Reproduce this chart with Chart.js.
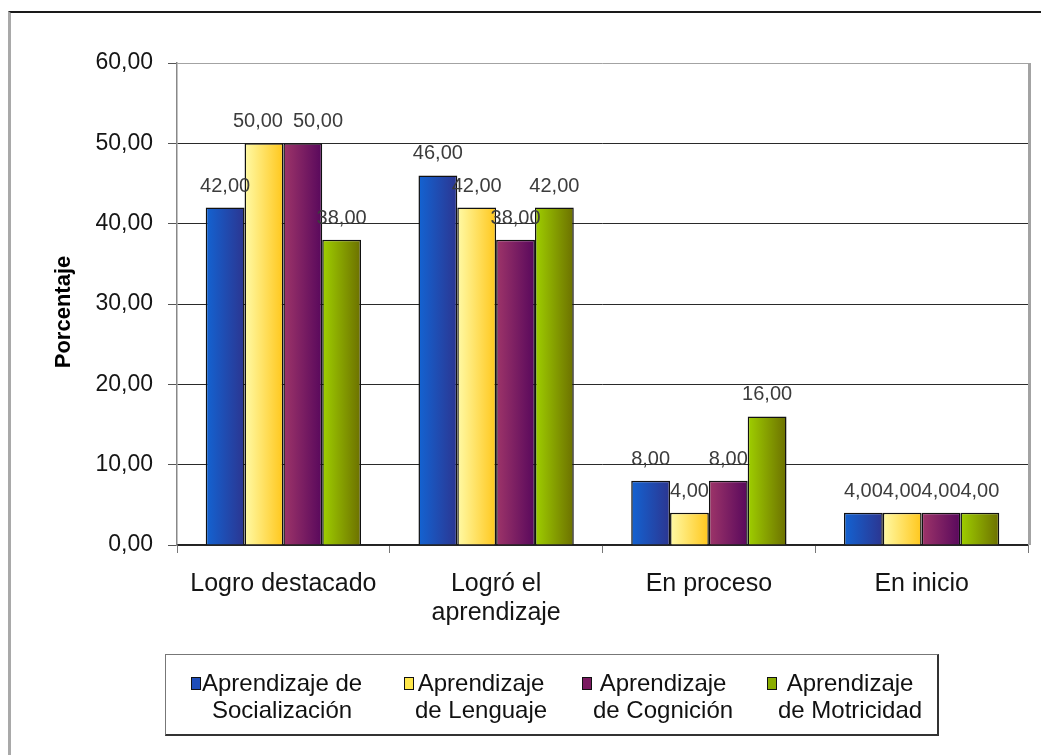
<!DOCTYPE html>
<html>
<head>
<meta charset="utf-8">
<script src="https://cdn.jsdelivr.net/npm/chart.js@4.4.0/dist/chart.umd.min.js"></script>
<style>
  html, body { margin: 0; padding: 0; background: #fff; width: 1041px; height: 755px; overflow: hidden; }
  #frame { position: absolute; left: 8px; top: 11px; width: 1100px; height: 800px;
           border-left: 3px solid #a9a9a9; border-top: 2px solid #1a1a1a; }
  #c { position: absolute; left: 0; top: 0; }
  #legend { position: absolute; left: 165px; top: 654px; width: 771px; height: 79px;
            border: 1px solid #777; border-right: 2px solid #333; border-bottom: 2px solid #333;
            font-family: 'Liberation Sans', Arial, sans-serif; font-size: 24px; color: #111; }
  .item { position: absolute; top: 14px; display: flex; align-items: flex-start; }
  .box { width: 8px; height: 11px; border: 1.5px solid #111; margin-top: 8px; margin-right: 1px; }
  .txt { text-align: center; line-height: 27px; white-space: nowrap; }
</style>
</head>
<body>
<div id="frame"></div>
<canvas id="c" width="1041" height="755"></canvas>
<div id="legend"></div>
<script>
const categories = ['Logro destacado', ['Logró el', 'aprendizaje'], 'En proceso', 'En inicio'];
const seriesNames = [
  ['Aprendizaje de', 'Socialización'],
  ['Aprendizaje', 'de Lenguaje'],
  ['Aprendizaje', 'de Cognición'],
  ['Aprendizaje', 'de Motricidad']
];
const socializacion = [42, 46, 8, 4];
const lenguaje = [50, 42, 4, 4];
const cognicion = [50, 38, 8, 4];
const motricidad = [38, 42, 16, 4];
const yTicks = [0, 10, 20, 30, 40, 50, 60];
const yTitle = 'Porcentaje';

// left / right colour of each bar's gradient, and the legend swatch
const gradColors = [
  ['#1363d2', '#2c3590'],
  ['#fffaa6', '#ffc71c'],
  ['#9e3569', '#58085c'],
  ['#9fcf00', '#6c7000']
];
const swatch = ['#1f4db8', '#ffe74a', '#7a1a60', '#8aad00'];

const fmt = v => v.toFixed(2).replace('.', ',');
const values = [socializacion, lenguaje, cognicion, motricidad];
const FONT = '"Liberation Sans", Arial, sans-serif';

const gradientBars = {
  id: 'gradientBars',
  beforeDatasetsDraw(chart) {
    const ctx = chart.ctx;
    chart.data.datasets.forEach((ds, i) => {
      chart.getDatasetMeta(i).data.forEach(bar => {
        const p = bar.getProps(['x', 'width'], true);
        const g = ctx.createLinearGradient(p.x - p.width / 2, 0, p.x + p.width / 2, 0);
        g.addColorStop(0, gradColors[i][0]);
        g.addColorStop(1, gradColors[i][1]);
        bar.options = Object.assign({}, bar.options, { backgroundColor: g });
      });
    });
  },
  afterDatasetsDraw(chart) {
    const ctx = chart.ctx;
    const a = chart.chartArea;
    ctx.save();
    // plot area right border
    ctx.strokeStyle = '#a3a3a3';
    ctx.lineWidth = 3;
    ctx.beginPath();
    ctx.moveTo(a.right + 1.5, a.top);
    ctx.lineTo(a.right + 1.5, a.bottom);
    ctx.stroke();

    // value labels, pushed apart when two at the same height collide
    ctx.font = '20px ' + FONT;
    ctx.fillStyle = '#3c3c3c';
    ctx.textAlign = 'center';
    ctx.textBaseline = 'alphabetic';
    const labels = [];
    chart.data.labels.forEach((c, j) => {
      chart.data.datasets.forEach((ds, i) => {
        const bar = chart.getDatasetMeta(i).data[j];
        const text = fmt(ds.data[j]);
        labels.push({ text, x: bar.x, y: bar.y - 16, w: ctx.measureText(text).width });
      });
    });
    for (let k = 1; k < labels.length; k++) {
      const p = labels[k - 1], q = labels[k];
      const overlap = (p.x + p.w / 2) - (q.x - q.w / 2);
      if (Math.abs(p.y - q.y) < 10 && overlap > 4) {
        p.x -= 6;
        q.x += overlap + 4;
      }
    }
    labels.forEach(l => ctx.fillText(l.text, l.x, l.y));

    // y axis title
    ctx.font = 'bold 22px ' + FONT;
    ctx.fillStyle = '#000';
    ctx.textBaseline = 'middle';
    ctx.translate(chart.scales.y.left + 16, (a.top + a.bottom) / 2 + 8);
    ctx.rotate(-Math.PI / 2);
    ctx.fillText(yTitle, 0, 0);
    ctx.restore();
  }
};

new Chart(document.getElementById('c'), {
  type: 'bar',
  data: {
    labels: categories,
    datasets: values.map((d, i) => ({
      label: seriesNames[i].join(' '),
      data: d,
      backgroundColor: swatch[i],
      borderColor: '#111',
      borderWidth: 1.5,
      categoryPercentage: 0.73,
      barPercentage: 1
    }))
  },
  options: {
    responsive: false,
    animation: false,
    devicePixelRatio: 1,
    layout: { padding: { left: 48, top: 63, right: 13, bottom: 130 } },
    plugins: { legend: { display: false }, tooltip: { enabled: false } },
    scales: {
      x: {
        afterFit: s => { s.height = 80; },
        grid: { drawOnChartArea: false, drawTicks: true, tickLength: 8, color: '#777', offset: true },
        border: { color: '#222', width: 1.5 },
        ticks: {
          padding: 17,
          color: '#151515',
          font: { family: FONT, size: 25, lineHeight: 1.16 }
        }
      },
      y: {
        min: 0,
        max: 60,
        afterFit: s => { s.width = 129; },
        afterBuildTicks: s => { s.ticks = yTicks.map(v => ({ value: v })); },
        grid: {
          color: c => (c.tick && c.tick.value === 60 ? '#a3a3a3' : '#2a2a2a'),
          tickColor: '#555',
          tickLength: 9
        },
        border: { color: '#888', width: 1.5 },
        ticks: {
          padding: 15,
          color: '#151515',
          font: { family: FONT, size: 23 },
          callback: v => fmt(v)
        }
      }
    }
  },
  plugins: [gradientBars]
});

const legendLefts = [25, 238, 416, 601];
document.getElementById('legend').innerHTML = seriesNames.map((lines, i) =>
  `<div class="item" style="left:${legendLefts[i]}px">
     <span class="box" style="background:${swatch[i]}"></span>
     <div class="txt">${lines.join('<br>')}</div>
   </div>`).join('');
</script>
</body>
</html>
